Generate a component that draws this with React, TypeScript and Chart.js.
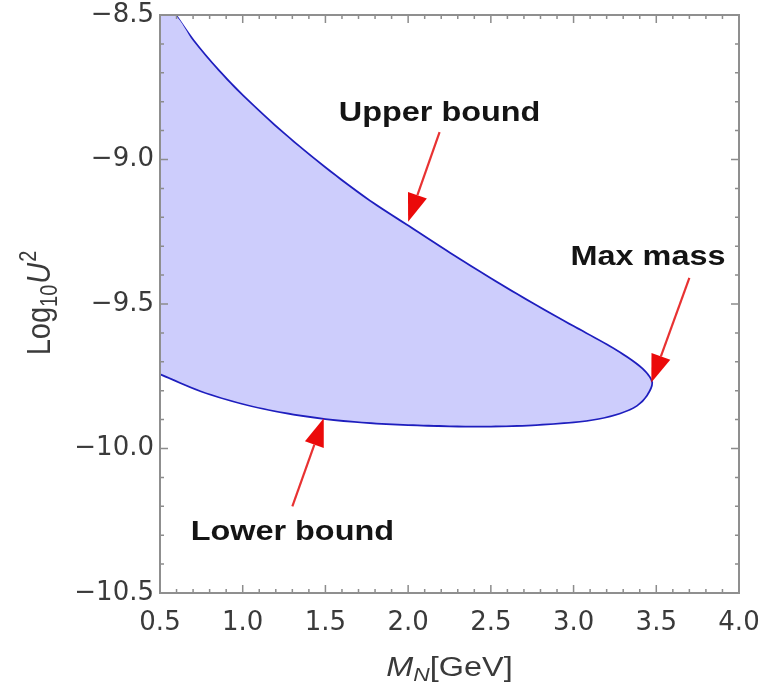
import React, { useEffect, useRef } from "react";
import { Chart, registerables } from "chart.js";

Chart.register(...registerables);

// Upper bound curve: M_N [GeV] vs log10 U^2
const upperMass = [0.59, 0.70, 0.85, 1.00, 1.25, 1.50, 1.75, 2.00, 2.25, 2.50, 2.75, 3.00, 3.20, 3.35, 3.43];
const upperLogU2 = [-8.50, -8.59, -8.692, -8.781, -8.913, -9.031, -9.138, -9.232, -9.325, -9.414, -9.499, -9.58, -9.643, -9.697, -9.735];
// Max mass point (where the two bounds meet)
const maxMass = 3.47;
const maxMassLogU2 = -9.772;
// Lower bound curve
const lowerMass = [0.50, 0.75, 1.00, 1.25, 1.50, 1.75, 2.00, 2.25, 2.50, 2.75, 3.00, 3.15, 3.28, 3.38, 3.44];
const lowerLogU2 = [-9.74, -9.80, -9.843, -9.874, -9.895, -9.908, -9.916, -9.92, -9.921, -9.917, -9.907, -9.895, -9.876, -9.85, -9.815];

// Axes
const xMin = 0.5, xMax = 4.0, xStep = 0.5, xMinorStep = 0.1;
const yMin = -10.5, yMax = -8.5, yStep = 0.5, yMinorStep = 0.1;

// Annotations (data coordinates)
const annotationLabels = ["Upper bound", "Max mass", "Lower bound"];
const annotationTextAt = [[2.19, -8.84], [3.45, -9.34], [1.30, -10.29]];
const annotationArrowFrom = [[2.19, -8.905], [3.70, -9.41], [1.30, -10.20]];
const annotationArrowTo = [[2.0, -9.215], [3.47, -9.772], [1.49, -9.895]];

const fmt = (v: number) => (v < 0 ? "\u2212" : "") + Math.abs(v).toFixed(1);
const SANS = '"Liberation Sans", Arial, sans-serif';

const framePlugin = {
  id: "frameAndNotes",
  afterDatasetsDraw(chart: any) {
    const { ctx, chartArea, scales } = chart;
    const { left, right, top, bottom } = chartArea;
    const xs = scales.x, ys = scales.y;
    ctx.save();
    // ticks on all sides (inside)
    ctx.strokeStyle = "#8c8c8c";
    ctx.lineWidth = 1.5;
    const nX = Math.round((xMax - xMin) / xMinorStep);
    for (let i = 0; i <= nX; i++) {
      const v = xMin + i * xMinorStep;
      const major = Math.abs(v / xStep - Math.round(v / xStep)) < 1e-6;
      const len = major ? 8 : 4;
      const px = xs.getPixelForValue(v);
      ctx.beginPath();
      ctx.moveTo(px, bottom); ctx.lineTo(px, bottom - len);
      ctx.moveTo(px, top); ctx.lineTo(px, top + len);
      ctx.stroke();
    }
    const nY = Math.round((yMax - yMin) / yMinorStep);
    for (let i = 0; i <= nY; i++) {
      const v = yMin + i * yMinorStep;
      const major = Math.abs(v / yStep - Math.round(v / yStep)) < 1e-6;
      const len = major ? 8 : 4;
      const py = ys.getPixelForValue(v);
      ctx.beginPath();
      ctx.moveTo(left, py); ctx.lineTo(left + len, py);
      ctx.moveTo(right, py); ctx.lineTo(right - len, py);
      ctx.stroke();
    }
    // frame
    ctx.strokeStyle = "#8f8f8f";
    ctx.lineWidth = 2;
    ctx.strokeRect(left, top, right - left, bottom - top);

    // arrows
    for (let i = 0; i < annotationLabels.length; i++) {
      const x1 = xs.getPixelForValue(annotationArrowFrom[i][0]);
      const y1 = ys.getPixelForValue(annotationArrowFrom[i][1]);
      const x2 = xs.getPixelForValue(annotationArrowTo[i][0]);
      const y2 = ys.getPixelForValue(annotationArrowTo[i][1]);
      const ang = Math.atan2(y2 - y1, x2 - x1);
      const headLen = 28, headHalf = 10;
      const bx = x2 - headLen * Math.cos(ang), by = y2 - headLen * Math.sin(ang);
      ctx.strokeStyle = "rgb(232,50,50)";
      ctx.lineWidth = 2.2;
      ctx.beginPath();
      ctx.moveTo(x1, y1); ctx.lineTo(bx, by);
      ctx.stroke();
      ctx.fillStyle = "rgb(235,10,10)";
      ctx.beginPath();
      ctx.moveTo(x2, y2);
      ctx.lineTo(bx + headHalf * Math.sin(ang), by - headHalf * Math.cos(ang));
      ctx.lineTo(bx - headHalf * Math.sin(ang), by + headHalf * Math.cos(ang));
      ctx.closePath();
      ctx.fill();
    }
    // annotation texts
    ctx.fillStyle = "#141414";
    ctx.textAlign = "center";
    ctx.textBaseline = "middle";
    for (let i = 0; i < annotationLabels.length; i++) {
      const tx = xs.getPixelForValue(annotationTextAt[i][0]);
      const ty = ys.getPixelForValue(annotationTextAt[i][1]);
      ctx.save();
      ctx.translate(tx, ty);
      ctx.scale(1.2, 1);
      ctx.font = `bold 27px ${SANS}`;
      ctx.fillText(annotationLabels[i], 0, 0);
      ctx.restore();
    }

    // x-axis title: M_N[GeV]
    ctx.fillStyle = "#3a3a3a";
    ctx.textBaseline = "alphabetic";
    ctx.textAlign = "left";
    {
      const cx = (left + right) / 2;
      const base = 676;
      const fBig = 27, fSmall = 19;
      ctx.save();
      ctx.translate(cx, base);
      ctx.scale(1.2, 1);
      ctx.font = `italic ${fBig}px ${SANS}`;
      const wM = ctx.measureText("M").width;
      ctx.font = `italic ${fSmall}px ${SANS}`;
      const wN = ctx.measureText("N").width;
      ctx.font = `${fBig}px ${SANS}`;
      const wG = ctx.measureText("[GeV]").width;
      let x = -(wM + wN + wG) / 2;
      ctx.font = `italic ${fBig}px ${SANS}`;
      ctx.fillText("M", x, 0); x += wM;
      ctx.font = `italic ${fSmall}px ${SANS}`;
      ctx.fillText("N", x, 5); x += wN;
      ctx.font = `${fBig}px ${SANS}`;
      ctx.fillText("[GeV]", x, 0);
      ctx.restore();
    }
    // y-axis title: Log10 U^2 (rotated)
    {
      const cy = (top + bottom) / 2;
      const base = 50;
      const fBig = 29, fSmall = 20;
      ctx.save();
      ctx.translate(base, cy);
      ctx.rotate(-Math.PI / 2);
      ctx.scale(1, 1.15);
      ctx.font = `${fBig}px ${SANS}`;
      const wL = ctx.measureText("Log").width;
      ctx.font = `${fSmall}px ${SANS}`;
      const w10 = ctx.measureText("10").width;
      ctx.font = `italic ${fBig}px ${SANS}`;
      const wU = ctx.measureText("U").width;
      ctx.font = `${fSmall}px ${SANS}`;
      const w2 = ctx.measureText("2").width;
      let x = -(wL + w10 + wU + w2) / 2;
      ctx.font = `${fBig}px ${SANS}`;
      ctx.fillText("Log", x, 0); x += wL;
      ctx.font = `${fSmall}px ${SANS}`;
      ctx.fillText("10", x, 6); x += w10 + 1;
      ctx.font = `italic ${fBig}px ${SANS}`;
      ctx.fillText("U", x, 0); x += wU + 1;
      ctx.font = `${fSmall}px ${SANS}`;
      ctx.fillText("2", x, -12);
      ctx.restore();
    }
    ctx.restore();
  },
};

export default function App() {
  const canvasRef = useRef<HTMLCanvasElement | null>(null);

  useEffect(() => {
    document.body.style.margin = "0";
    const canvas = canvasRef.current;
    if (!canvas) return;

    const upperPts = upperMass.map((m, i) => ({ x: m, y: upperLogU2[i] }));
    const lowerPts = lowerMass.map((m, i) => ({ x: m, y: lowerLogU2[i] }));
    const boundary = [...upperPts, { x: maxMass, y: maxMassLogU2 }, ...lowerPts.slice().reverse()];
    const region = [{ x: xMin, y: yMax }, ...boundary];

    const chart = new Chart(canvas, {
      type: "scatter",
      data: {
        datasets: [
          {
            label: "Allowed region",
            data: region,
            showLine: true,
            fill: "shape",
            backgroundColor: "rgb(205,205,252)",
            borderWidth: 0,
            borderColor: "rgba(0,0,0,0)",
            pointRadius: 0,
            tension: 0.3,
          },
          {
            label: "Bounds",
            data: boundary,
            showLine: true,
            fill: false,
            borderColor: "rgb(30,30,190)",
            borderWidth: 3.5,
            pointRadius: 0,
            tension: 0.3,
          },
        ],
      },
      options: {
        responsive: false,
        animation: false,
        events: [],
        layout: { padding: { top: 15, right: 27, left: 0, bottom: 0 } },
        plugins: {
          legend: { display: false },
          tooltip: { enabled: false },
          title: { display: false },
        },
        scales: {
          x: {
            type: "linear",
            min: xMin,
            max: xMax,
            grid: { display: false, drawTicks: false },
            border: { display: false },
            ticks: {
              stepSize: xStep,
              padding: 15,
              color: "#3a3a3a",
              font: { family: '"DejaVu Sans"', size: 26 },
              callback: (v: any) => fmt(Number(v)),
              maxRotation: 0,
              autoSkip: false,
            },
            afterFit: (s: any) => {
              s.height = 97;
              s.paddingLeft = 0;
              s.paddingRight = 0;
            },
          },
          y: {
            type: "linear",
            min: yMin,
            max: yMax,
            grid: { display: false, drawTicks: false },
            border: { display: false },
            ticks: {
              stepSize: yStep,
              padding: 6,
              color: "#3a3a3a",
              font: { family: '"DejaVu Sans"', size: 26 },
              callback: (v: any) => fmt(Number(v)),
              autoSkip: false,
            },
            afterFit: (s: any) => {
              s.width = 160;
              s.paddingTop = 0;
              s.paddingBottom = 0;
            },
          },
        },
      },
      plugins: [framePlugin],
    });
    return () => chart.destroy();
  }, []);

  return (
    <div style={{ width: 766, height: 690, background: "#fff" }}>
      <canvas ref={canvasRef} width={766} height={690} style={{ display: "block" }} />
    </div>
  );
}
